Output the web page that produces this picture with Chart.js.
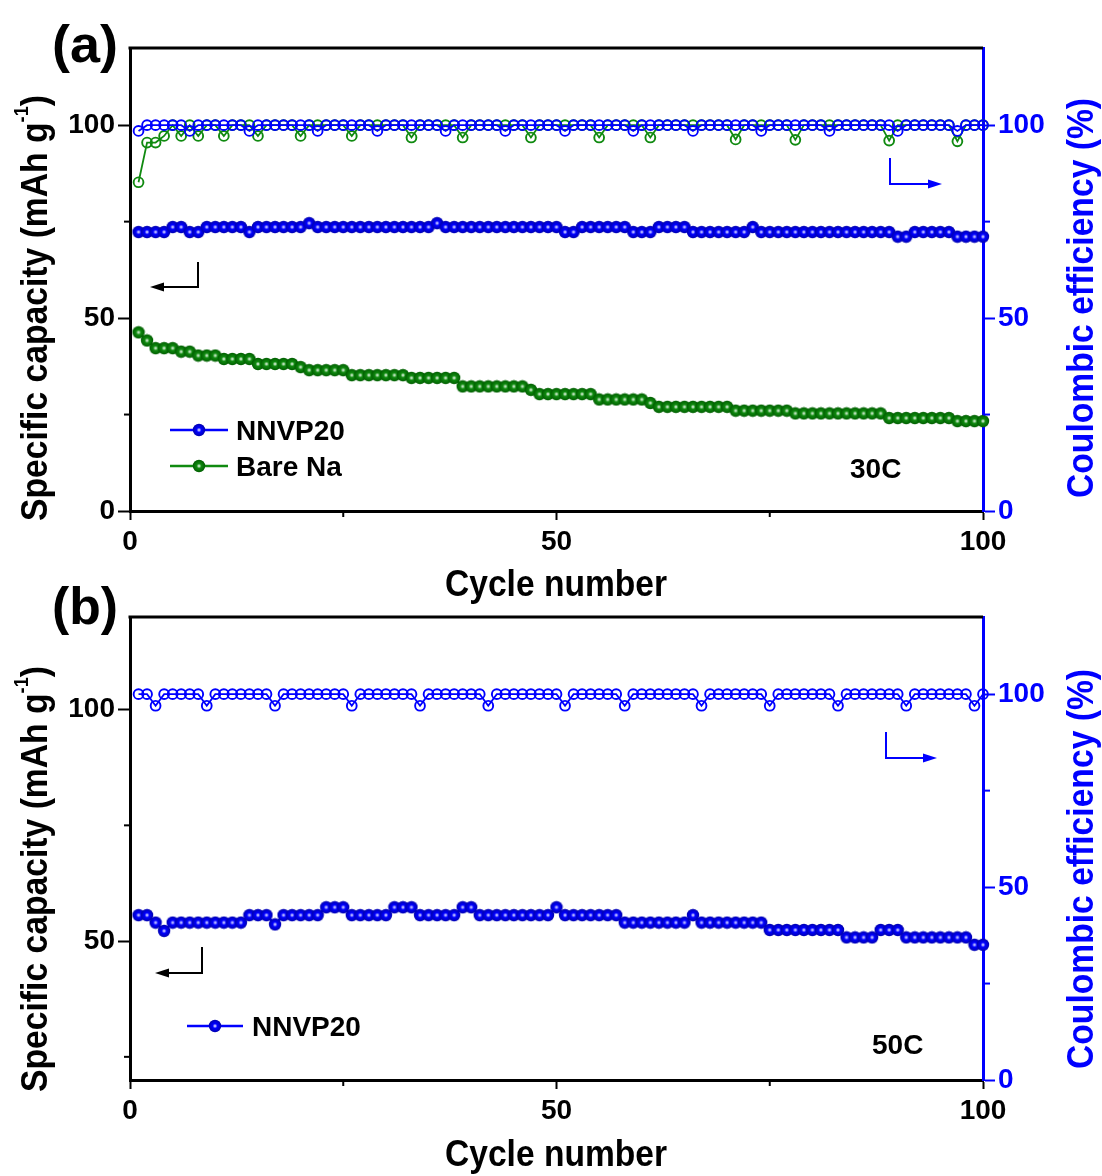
<!DOCTYPE html>
<html>
<head>
<meta charset="utf-8">
<title>Cycling performance at 30C and 50C</title>
<script src="https://cdn.jsdelivr.net/npm/chart.js@4.4.1/dist/chart.umd.min.js"></script>
<style>
  html, body { margin: 0; padding: 0; background: #fff; }
  #page { position: relative; width: 1102px; height: 1176px; overflow: hidden; }
  canvas { position: absolute; left: 0; }
  #chartA { top: 0; }
  #chartB { top: 570px; }
</style>
</head>
<body>
<div id="page">
  <canvas id="chartA" width="1102" height="608"></canvas>
  <canvas id="chartB" width="1102" height="606"></canvas>
</div>
<script>
// cycle index 1..100
const cycles = Array.from({ length: 100 }, (_, i) => i + 1)

// (a) 30C, specific capacity (mAh/g)
const capA_nnvp = [
  72.3, 72.3, 72.3, 72.3, 73.6, 73.6, 72.3, 72.3, 73.6, 73.6,
  73.6, 73.6, 73.6, 72.3, 73.6, 73.6, 73.6, 73.6, 73.6, 73.6,
  74.6, 73.6, 73.6, 73.6, 73.6, 73.6, 73.6, 73.6, 73.6, 73.6,
  73.6, 73.6, 73.6, 73.6, 73.6, 74.6, 73.6, 73.6, 73.6, 73.6,
  73.6, 73.6, 73.6, 73.6, 73.6, 73.6, 73.6, 73.6, 73.6, 73.6,
  72.3, 72.3, 73.6, 73.6, 73.6, 73.6, 73.6, 73.6, 72.3, 72.3,
  72.3, 73.6, 73.6, 73.6, 73.6, 72.3, 72.3, 72.3, 72.3, 72.3,
  72.3, 72.3, 73.6, 72.3, 72.3, 72.3, 72.3, 72.3, 72.3, 72.3,
  72.3, 72.3, 72.3, 72.3, 72.3, 72.3, 72.3, 72.3, 72.3, 71.1,
  71.1, 72.3, 72.3, 72.3, 72.3, 72.3, 71.1, 71.1, 71.1, 71.1
]
const capA_bare = [
  46.3, 44.2, 42.2, 42.2, 42.2, 41.3, 41.3, 40.3, 40.3, 40.3,
  39.4, 39.4, 39.4, 39.4, 38.1, 38.1, 38.1, 38.1, 38.1, 37.3,
  36.5, 36.5, 36.5, 36.5, 36.5, 35.2, 35.2, 35.2, 35.2, 35.2,
  35.2, 35.2, 34.5, 34.5, 34.5, 34.5, 34.5, 34.5, 32.3, 32.3,
  32.3, 32.3, 32.3, 32.3, 32.3, 32.3, 31.4, 30.3, 30.3, 30.3,
  30.3, 30.3, 30.3, 30.3, 28.9, 28.9, 28.9, 28.9, 28.9, 28.9,
  28.0, 27.0, 27.0, 27.0, 27.0, 27.0, 27.0, 27.0, 27.0, 27.0,
  26.0, 26.0, 26.0, 26.0, 26.0, 26.0, 26.0, 25.3, 25.3, 25.3,
  25.3, 25.3, 25.3, 25.3, 25.3, 25.3, 25.3, 25.3, 24.1, 24.1,
  24.1, 24.1, 24.1, 24.1, 24.1, 24.1, 23.3, 23.3, 23.3, 23.3
]
// (a) 30C, coulombic efficiency (%)
const ceA_nnvp = [
  98.5, 100, 100, 100, 100, 100, 98.5, 100, 100, 100,
  100, 100, 100, 98.5, 100, 100, 100, 100, 100, 100,
  100, 98.5, 100, 100, 100, 100, 100, 100, 98.5, 100,
  100, 100, 100, 100, 100, 100, 98.5, 100, 100, 100,
  100, 100, 100, 98.5, 100, 100, 100, 100, 100, 100,
  98.5, 100, 100, 100, 100, 100, 100, 100, 98.5, 100,
  100, 100, 100, 100, 100, 98.5, 100, 100, 100, 100,
  100, 100, 100, 98.5, 100, 100, 100, 100, 100, 100,
  100, 98.5, 100, 100, 100, 100, 100, 100, 100, 98.5,
  100, 100, 100, 100, 100, 100, 98.5, 100, 100, 100
]
const ceA_bare = [
  85.2, 95.5, 95.5, 97.2, 100, 97.2, 100, 97.2, 100, 100,
  97.2, 100, 100, 100, 97.2, 100, 100, 100, 100, 97.2,
  100, 100, 100, 100, 100, 97.2, 100, 100, 100, 100,
  100, 100, 96.8, 100, 100, 100, 100, 100, 96.8, 100,
  100, 100, 100, 100, 100, 100, 96.8, 100, 100, 100,
  100, 100, 100, 100, 96.8, 100, 100, 100, 100, 100,
  96.8, 100, 100, 100, 100, 100, 100, 100, 100, 100,
  96.3, 100, 100, 100, 100, 100, 100, 96.2, 100, 100,
  100, 100, 100, 100, 100, 100, 100, 100, 96.0, 100,
  100, 100, 100, 100, 100, 100, 95.8, 100, 100, 100
]

// (b) 50C
const capB_nnvp = [
  55.6, 55.6, 54.0, 52.2, 54.0, 54.0, 54.0, 54.0, 54.0, 54.0,
  54.0, 54.0, 54.0, 55.6, 55.6, 55.6, 53.6, 55.6, 55.6, 55.6,
  55.6, 55.6, 57.3, 57.3, 57.3, 55.6, 55.6, 55.6, 55.6, 55.6,
  57.3, 57.3, 57.3, 55.6, 55.6, 55.6, 55.6, 55.6, 57.3, 57.3,
  55.6, 55.6, 55.6, 55.6, 55.6, 55.6, 55.6, 55.6, 55.6, 57.3,
  55.6, 55.6, 55.6, 55.6, 55.6, 55.6, 55.6, 54.0, 54.0, 54.0,
  54.0, 54.0, 54.0, 54.0, 54.0, 55.6, 54.0, 54.0, 54.0, 54.0,
  54.0, 54.0, 54.0, 54.0, 52.4, 52.4, 52.4, 52.4, 52.4, 52.4,
  52.4, 52.4, 52.4, 50.8, 50.8, 50.8, 50.8, 52.4, 52.4, 52.4,
  50.8, 50.8, 50.8, 50.8, 50.8, 50.8, 50.8, 50.8, 49.2, 49.2
]
const ceB_nnvp = [
  100, 100, 97, 100, 100, 100, 100, 100, 97, 100,
  100, 100, 100, 100, 100, 100, 97, 100, 100, 100,
  100, 100, 100, 100, 100, 97, 100, 100, 100, 100,
  100, 100, 100, 97, 100, 100, 100, 100, 100, 100,
  100, 97, 100, 100, 100, 100, 100, 100, 100, 100,
  97, 100, 100, 100, 100, 100, 100, 97, 100, 100,
  100, 100, 100, 100, 100, 100, 97, 100, 100, 100,
  100, 100, 100, 100, 97, 100, 100, 100, 100, 100,
  100, 100, 97, 100, 100, 100, 100, 100, 100, 100,
  97, 100, 100, 100, 100, 100, 100, 100, 97, 100
]

// tick values
const xTicks = [0, 50, 100]
const xMinor = [25, 75]
const yTicksA = [0, 50, 100]
const yTicksB = [50, 100]
const yMinor = [25, 75]
const y2Ticks = [0, 50, 100]
const y2Minor = [25, 75]

const FONT = '"Liberation Sans", Arial, Helvetica, sans-serif'
const BLUE = '#0000ff'
const GREEN = '#108a10'

// shaded ball marker like the original plot software
function ball (edge, mid, light) {
  const c = document.createElement('canvas')
  c.width = 14
  c.height = 14
  const g = c.getContext('2d')
  const grd = g.createRadialGradient(7, 7, 0, 7, 7, 6.2)
  grd.addColorStop(0, '#ffffff')
  grd.addColorStop(0.16, light)
  grd.addColorStop(0.38, mid)
  grd.addColorStop(1, edge)
  g.fillStyle = grd
  g.beginPath()
  g.arc(7, 7, 6.2, 0, Math.PI * 2)
  g.fill()
  return c
}
const blueBall = ball('#0000b0', BLUE, '#9090ff')
const greenBall = ball('#005e00', GREEN, '#98d098')

function series (label, values, axis, color, marker) {
  const open = marker === 'open'
  return {
    label,
    yAxisID: axis,
    data: values.map((v, i) => ({ x: cycles[i], y: v })),
    borderColor: color,
    borderWidth: open ? 1.8 : 2.4,
    pointStyle: open ? 'circle' : marker,
    pointRadius: open ? 4.9 : 6.2,
    pointBorderWidth: 1.9,
    pointBorderColor: color,
    pointBackgroundColor: open ? 'rgba(0,0,0,0)' : color,
    fill: false,
    tension: 0,
    clip: false
  }
}

function seg (ctx, x1, y1, x2, y2, color, w) {
  ctx.strokeStyle = color
  ctx.lineWidth = w
  ctx.beginPath()
  ctx.moveTo(x1, y1)
  ctx.lineTo(x2, y2)
  ctx.stroke()
}

function arrow (ctx, pts, color) {
  const n = pts.length
  const [ax, ay] = pts[n - 2]
  const [bx, by] = pts[n - 1]
  const ang = Math.atan2(by - ay, bx - ax)
  const L = 14
  const W = 4.5
  ctx.strokeStyle = color
  ctx.fillStyle = color
  ctx.lineWidth = 2
  ctx.beginPath()
  ctx.moveTo(pts[0][0], pts[0][1])
  for (let i = 1; i < n - 1; i++) ctx.lineTo(pts[i][0], pts[i][1])
  ctx.lineTo(bx - Math.cos(ang) * (L - 2), by - Math.sin(ang) * (L - 2))
  ctx.stroke()
  ctx.beginPath()
  ctx.moveTo(bx, by)
  ctx.lineTo(bx - L * Math.cos(ang) - W * Math.sin(ang), by - L * Math.sin(ang) + W * Math.cos(ang))
  ctx.lineTo(bx - L * Math.cos(ang) + W * Math.sin(ang), by - L * Math.sin(ang) - W * Math.cos(ang))
  ctx.closePath()
  ctx.fill()
}

// text runs squeezed to a given length, centred on (x, y) baseline
function drawRuns (ctx, runs, x, y, rot, len, color) {
  ctx.save()
  ctx.translate(x, y)
  ctx.rotate(rot)
  let total = 0
  const widths = runs.map(r => {
    ctx.font = 'bold ' + r.size + 'px ' + FONT
    const w = ctx.measureText(r.text).width
    total += w
    return w
  })
  ctx.scale(len / total, 1)
  ctx.fillStyle = color
  ctx.textAlign = 'left'
  ctx.textBaseline = 'alphabetic'
  let cx = -total / 2
  runs.forEach((r, i) => {
    ctx.font = 'bold ' + r.size + 'px ' + FONT
    ctx.fillText(r.text, cx, -(r.rise || 0))
    cx += widths[i]
  })
  ctx.restore()
}

const capTitle = [
  { text: 'Specific capacity (mAh g', size: 37 },
  { text: '-1', size: 20, rise: 19 },
  { text: ')', size: 37 }
]
const ceTitle = [{ text: 'Coulombic efficiency (%)', size: 37 }]
const xTitle = [{ text: 'Cycle number', size: 36 }]

const decor = {
  id: 'decor',
  afterDraw (chart, args, o) {
    const { ctx, chartArea: a, scales: s } = chart
    ctx.save()
    seg(ctx, a.left - 1.5, a.top, a.right, a.top, '#000', 3)
    xMinor.forEach(v => {
      const p = s.x.getPixelForValue(v)
      seg(ctx, p, a.bottom, p, a.bottom + 6, '#000', 2)
    })
    yMinor.forEach(v => {
      const p = s.y.getPixelForValue(v)
      seg(ctx, a.left - 6, p, a.left, p, '#000', 2)
    })
    y2Minor.forEach(v => {
      const p = s.y2.getPixelForValue(v)
      seg(ctx, a.right, p, a.right + 7, p, BLUE, 2)
    })

    // everything below is placed in page coordinates
    ctx.translate(0, -o.offset)
    drawRuns(ctx, capTitle, 47, o.yTitle, -Math.PI / 2, 426, '#000')
    drawRuns(ctx, ceTitle, 1093, o.y2Title, -Math.PI / 2, 400, BLUE)
    drawRuns(ctx, xTitle, 556, o.xTitle, 0, 222, '#000')
    drawRuns(ctx, [{ text: o.panel, size: 52 }], 85, o.panelY, 0, 66, '#000')

    ctx.font = 'bold 28px ' + FONT
    ctx.textAlign = 'left'
    ctx.textBaseline = 'alphabetic'
    o.legend.forEach(it => {
      seg(ctx, it.x0, it.y, it.x1, it.y, it.color, 2.5)
      ctx.drawImage(it.ball, (it.x0 + it.x1) / 2 - 7, it.y - 7)
      ctx.fillStyle = '#000'
      ctx.fillText(it.text, it.tx, it.ty)
    })
    ctx.fillStyle = '#000'
    ctx.fillText(o.rate.text, o.rate.x, o.rate.y)
    o.arrows.forEach(ar => arrow(ctx, ar.pts, ar.color))
    ctx.restore()
  }
}

function tickFont () {
  return { family: FONT, size: 28, weight: 'bold' }
}

function makeChart (id, o) {
  return new Chart(document.getElementById(id), {
    type: 'line',
    data: { datasets: o.datasets },
    options: {
      responsive: false,
      animation: false,
      events: [],
      layout: { padding: { top: o.padTop, left: 0, right: 0, bottom: 0 } },
      plugins: { legend: { display: false }, tooltip: { enabled: false }, decor: o.decor },
      scales: {
        x: {
          type: 'linear',
          position: 'bottom',
          min: 0,
          max: 100,
          afterBuildTicks: sc => { sc.ticks = xTicks.map(v => ({ value: v })) },
          afterFit: sc => { sc.height = o.xHeight },
          ticks: { color: '#000', font: tickFont(), padding: 5, maxRotation: 0, autoSkip: false },
          grid: { drawOnChartArea: false, tickLength: 9, tickWidth: 2, tickColor: '#000' },
          border: { color: '#000', width: 3 }
        },
        y: {
          position: 'left',
          min: o.yMin,
          max: 120,
          afterBuildTicks: sc => { sc.ticks = o.yTicks.map(v => ({ value: v })) },
          afterFit: sc => { sc.width = 130 },
          ticks: { color: '#000', font: tickFont(), padding: 3 },
          grid: { drawOnChartArea: false, tickLength: 12, tickWidth: 2, tickColor: '#000' },
          border: { color: '#000', width: 3 }
        },
        y2: {
          position: 'right',
          min: 0,
          max: 120,
          afterBuildTicks: sc => { sc.ticks = y2Ticks.map(v => ({ value: v })) },
          afterFit: sc => { sc.width = 119 },
          ticks: { color: BLUE, font: tickFont(), padding: 3 },
          grid: { drawOnChartArea: false, tickLength: 12, tickWidth: 2, tickColor: BLUE },
          border: { color: BLUE, width: 3 }
        }
      }
    },
    plugins: [decor]
  })
}

makeChart('chartA', {
  padTop: 48,
  xHeight: 97,
  yMin: 0,
  yTicks: yTicksA,
  datasets: [
    series('NNVP20', capA_nnvp, 'y', BLUE, blueBall),
    series('Bare Na', capA_bare, 'y', GREEN, greenBall),
    series('NNVP20 CE', ceA_nnvp, 'y2', BLUE, 'open'),
    series('Bare Na CE', ceA_bare, 'y2', GREEN, 'open')
  ],
  decor: {
    offset: 0,
    panel: '(a)',
    panelY: 62,
    yTitle: 308,
    y2Title: 298,
    xTitle: 596,
    legend: [
      { text: 'NNVP20', color: BLUE, ball: blueBall, x0: 170, x1: 228, y: 430, tx: 236, ty: 440 },
      { text: 'Bare Na', color: GREEN, ball: greenBall, x0: 170, x1: 228, y: 466, tx: 236, ty: 476 }
    ],
    rate: { text: '30C', x: 850, y: 478 },
    arrows: [
      { color: '#000', pts: [[198, 262], [198, 287], [150, 287]] },
      { color: BLUE, pts: [[890, 158], [890, 184], [942, 184]] }
    ]
  }
})

makeChart('chartB', {
  padTop: 47,
  xHeight: 96,
  yMin: 20,
  yTicks: yTicksB,
  datasets: [
    series('NNVP20', capB_nnvp, 'y', BLUE, blueBall),
    series('NNVP20 CE', ceB_nnvp, 'y2', BLUE, 'open')
  ],
  decor: {
    offset: 570,
    panel: '(b)',
    panelY: 624,
    yTitle: 879,
    y2Title: 869,
    xTitle: 1166,
    legend: [
      { text: 'NNVP20', color: BLUE, ball: blueBall, x0: 187, x1: 243, y: 1026, tx: 252, ty: 1036 }
    ],
    rate: { text: '50C', x: 872, y: 1054 },
    arrows: [
      { color: '#000', pts: [[202, 947], [202, 973], [155, 973]] },
      { color: BLUE, pts: [[886, 732], [886, 758], [937, 758]] }
    ]
  }
})
</script>
</body>
</html>
